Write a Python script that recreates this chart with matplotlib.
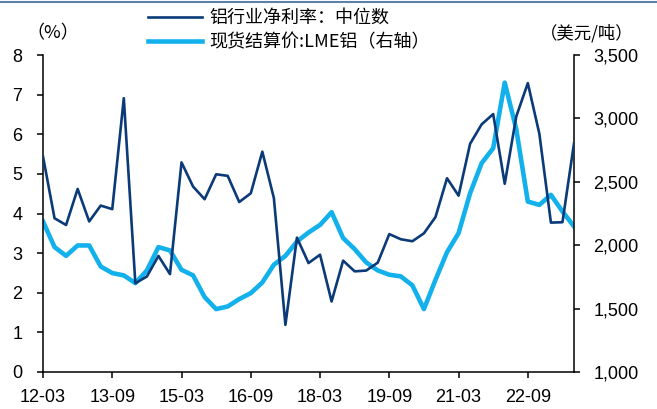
import matplotlib
matplotlib.use('Agg')
import matplotlib.pyplot as plt
from matplotlib.lines import Line2D
from matplotlib.ticker import FuncFormatter

# --- Data (quarterly, 2012-03 .. 2023-09) ---
QUARTERS = [f'{y % 100:02d}-{m:02d}' for y in range(2012, 2024) for m in (3, 6, 9, 12)][:47]

margin = [5.44, 3.88, 3.71, 4.62, 3.80, 4.20, 4.11, 6.91, 2.24, 2.41,
          2.93, 2.47, 5.29, 4.68, 4.36, 4.99, 4.95, 4.29, 4.51, 5.56,
          4.39, 1.19, 3.39, 2.75, 2.96, 1.78, 2.81, 2.54, 2.56, 2.76,
          3.48, 3.35, 3.30, 3.50, 3.91, 4.89, 4.45, 5.76, 6.25, 6.51,
          4.75, 6.45, 7.29, 6.01, 3.77, 3.78, 5.77]

lme_price = [2187, 1985, 1916, 1998, 1998, 1832, 1780, 1762, 1701, 1801,
             1985, 1959, 1806, 1762, 1591, 1496, 1517, 1575, 1622, 1706,
             1846, 1916, 2029, 2100, 2160, 2260, 2056, 1969, 1864, 1801,
             1767, 1754, 1683, 1496, 1727, 1945, 2095, 2410, 2647, 2765,
             3282, 2914, 2344, 2318, 2397, 2266, 2148]

tick_idx = list(range(0, 43, 6))
tick_labels = [QUARTERS[i] for i in tick_idx]

DARK = '#0b3a78'
LIGHT = '#13b1ec'

plt.rcParams['font.family'] = ['Liberation Sans', 'Noto Sans CJK SC', 'DejaVu Sans']
CJK = ['Noto Sans CJK SC', 'DejaVu Sans']

fig = plt.figure(figsize=(6.57, 4.09), dpi=100)
ax = fig.add_axes([43 / 657, 1 - 372 / 409, (574 - 43) / 657, (372 - 55) / 409])
ax2 = ax.twinx()

x = list(range(len(margin)))
ax.plot(x, margin, color=DARK, lw=1.9, zorder=3)
ax2.plot(x, lme_price, color=LIGHT, lw=3.3, zorder=2)
ax.set_zorder(ax2.get_zorder() + 1)
ax.patch.set_visible(False)

ax.set_xlim(0, 46)
ax.set_ylim(0, 8)
ax2.set_ylim(1000, 3500)
ax.set_yticks(range(0, 9))
ax2.set_yticks(range(1000, 3501, 500))
ax2.yaxis.set_major_formatter(FuncFormatter(lambda v, p: f'{int(v):,}'))
ax.set_xticks(tick_idx)
ax.set_xticklabels(tick_labels)

for a in (ax, ax2):
    a.spines['top'].set_visible(False)
    for s in a.spines.values():
        s.set_linewidth(1.1)
ax.spines['right'].set_visible(False)
ax2.spines['left'].set_visible(False)
ax2.spines['bottom'].set_visible(False)

ax.tick_params(axis='y', direction='out', length=4, width=1.1, labelsize=13, pad=11)
ax.tick_params(axis='x', direction='out', length=4, width=1.1, labelsize=13, pad=8)
ax2.tick_params(axis='y', direction='out', length=4, width=1.1, labelsize=13, pad=10)

# unit labels
fig.text(53 / 657, 1 - 33 / 409, '（%）', ha='center', va='center', fontsize=13, family=CJK)
fig.text(587 / 657, 1 - 33 / 409, '（美元/吨）', ha='center', va='center', fontsize=12.5, family=CJK)

# legend
handles = [Line2D([], [], color=DARK, lw=1.9), Line2D([], [], color=LIGHT, lw=3.3)]
labels = ['铝行业净利率：中位数', '现货结算价:LME铝（右轴）']
fig.legend(handles, labels, loc='upper left', bbox_to_anchor=(148 / 657, 1 - 9 / 409),
           frameon=False, handlelength=3.0, handletextpad=0.4, labelspacing=0.35,
           borderaxespad=0, borderpad=0, prop={'family': CJK, 'size': 13})

# thin frame line at top of the figure
fig.add_artist(Line2D([0, 1], [1 - 1.5 / 409, 1 - 1.5 / 409], transform=fig.transFigure,
                      color='#5b80aa', lw=1.5))

fig.savefig('out.png', dpi=100)
